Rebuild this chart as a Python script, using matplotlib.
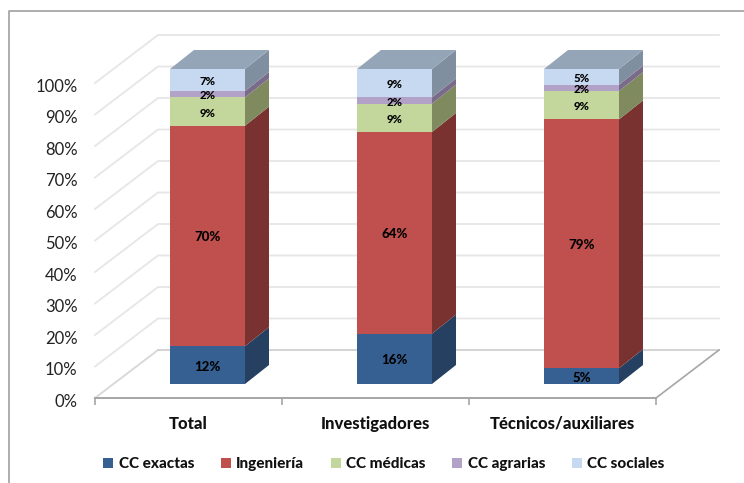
import matplotlib
matplotlib.use("Agg")
import matplotlib.pyplot as plt
from matplotlib.lines import Line2D
from matplotlib.patches import Patch, Polygon, Rectangle
from matplotlib.transforms import ScaledTranslation

plt.rcParams["font.family"] = ["Lato", "DejaVu Sans"]

categories = ["Total", "Investigadores", "Técnicos/auxiliares"]
series_names = ["CC exactas", "Ingeniería", "CC médicas", "CC agrarias", "CC sociales"]
cc_exactas = [12, 16, 5]
ingenieria = [70, 64, 79]
cc_medicas = [9, 9, 9]
cc_agrarias = [2, 2, 2]
cc_sociales = [7, 9, 5]
series_values = [cc_exactas, ingenieria, cc_medicas, cc_agrarias, cc_sociales]
y_ticks = list(range(0, 101, 10))

front_colors = ["#376092", "#C0504D", "#C3D69B", "#B3A2C7", "#C6D9F1"]
side_colors = ["#254061", "#7A3230", "#7F8A5F", "#7B6B8A", "#7F8FA0"]
label_sizes = [9.5, 9.5, 8.2, 8.2, 8.2]
top_color = "#95A5B8"
grid_color = "#E6E6E6"
axis_color = "#A6A6A6"

W, H = 744, 483
fig = plt.figure(figsize=(W / 100, H / 100), dpi=100, facecolor="white")

# Axes box is the front plane of the pseudo-3D plot, in pixels of the figure.
left, right, bottom, top = 95, 656, 398, 83
ax = fig.add_axes([left / W, 1 - bottom / H, (right - left) / W, (bottom - top) / H])
ax.set_xlim(0, len(categories))
ax.set_ylim(0, 100)
ax.patch.set_visible(False)
for spine in ax.spines.values():
    spine.set_visible(False)

# Conversion from pixels to data units, for the oblique depth offsets.
px_x = len(categories) / (right - left)
px_y = 100 / (bottom - top)

depth_x, depth_y = 63 * px_x, 48 * px_y          # full floor depth
bar_x, bar_y = 19 * px_x, 14 * px_y              # bar offset from the front plane
bar_dx, bar_dy = 24 * px_x, 19 * px_y            # bar depth
bar_w = 75 * px_x

# Walls: gridlines run along the left side and across the back.
for t in y_ticks:
    ax.plot([0, depth_x, 3 + depth_x], [t, t + depth_y, t + depth_y],
            color=grid_color, lw=1.3, clip_on=False, zorder=1,
            solid_joinstyle="miter")

# Floor edges and category axis.
ax.plot([0, depth_x], [0, depth_y], color="#D9D9D9", lw=1.2, clip_on=False, zorder=1)
ax.plot([depth_x, 3 + depth_x], [depth_y, depth_y], color="#D0D0D0", lw=1.2, clip_on=False, zorder=1)
ax.plot([3, 3 + depth_x], [0, depth_y], color=axis_color, lw=1.2, clip_on=False, zorder=2)
ax.plot([0, 3], [0, 0], color=axis_color, lw=1.4, clip_on=False, zorder=2)

# Bars are stacked boxes: front face, side face, then a lid on the top one.
for i, name in enumerate(categories):
    x0 = i + 0.5 - bar_w / 2 + bar_x
    x1 = x0 + bar_w
    base = 0.0
    for values, front, side, size in zip(series_values, front_colors, side_colors, label_sizes):
        v = values[i]
        y0, y1 = bar_y + base, bar_y + base + v
        ax.add_patch(Polygon([(x1, y0), (x1 + bar_dx, y0 + bar_dy),
                              (x1 + bar_dx, y1 + bar_dy), (x1, y1)],
                             closed=True, fc=side, ec="none", zorder=3, clip_on=False))
        ax.add_patch(Rectangle((x0, y0), bar_w, v, fc=front, ec="none", zorder=4, clip_on=False))
        ax.text((x0 + x1) / 2, (y0 + y1) / 2 - 1.5 * px_y, f"{v}%", ha="center", va="center",
                fontsize=size, fontweight=900, color="black", zorder=6)
        base += v
    y_top = bar_y + base
    ax.add_patch(Polygon([(x0, y_top), (x1, y_top), (x1 + bar_dx, y_top + bar_dy),
                          (x0 + bar_dx, y_top + bar_dy)],
                         closed=True, fc=top_color, ec="none", zorder=3, clip_on=False))

# Ticks and labels.
ax.set_yticks(y_ticks)
ax.set_yticklabels([f"{t}%" for t in y_ticks])
ax.tick_params(axis="y", length=0, pad=12.5, labelsize=12, labelcolor="#222222")
shift_down = ScaledTranslation(0, -1.5 / 72, fig.dpi_scale_trans)
for label in ax.get_yticklabels():
    label.set_transform(label.get_transform() + shift_down)
ax.set_xticks(range(len(categories) + 1))
ax.set_xticklabels([])
ax.tick_params(axis="x", length=5, width=1.2, color=axis_color, direction="out")
for i, name in enumerate(categories):
    ax.annotate(name, (i + 0.5, 0), xytext=(0, -18.4),
                textcoords="offset points", ha="center", va="center",
                fontsize=12, fontweight=900, color="#111111", annotation_clip=False)

# Outer chart border: left and top edges.
fig.add_artist(Line2D([9 / W, 9 / W, 1], [0, 1 - 11 / H, 1 - 11 / H],
                      color="#A0A0A0", lw=1.2, transform=fig.transFigure))

# Legend.
handles = [Patch(fc=c, ec="none") for c in front_colors]
fig.legend(handles, series_names, loc="center", bbox_to_anchor=(384 / W, 1 - 464 / H), ncol=5,
           frameon=False, handlelength=0.65, handleheight=0.65, handletextpad=0.35,
           columnspacing=1.75, prop={"size": 11, "weight": 900}, labelcolor="#111111")

fig.savefig("out.png", dpi=100)
